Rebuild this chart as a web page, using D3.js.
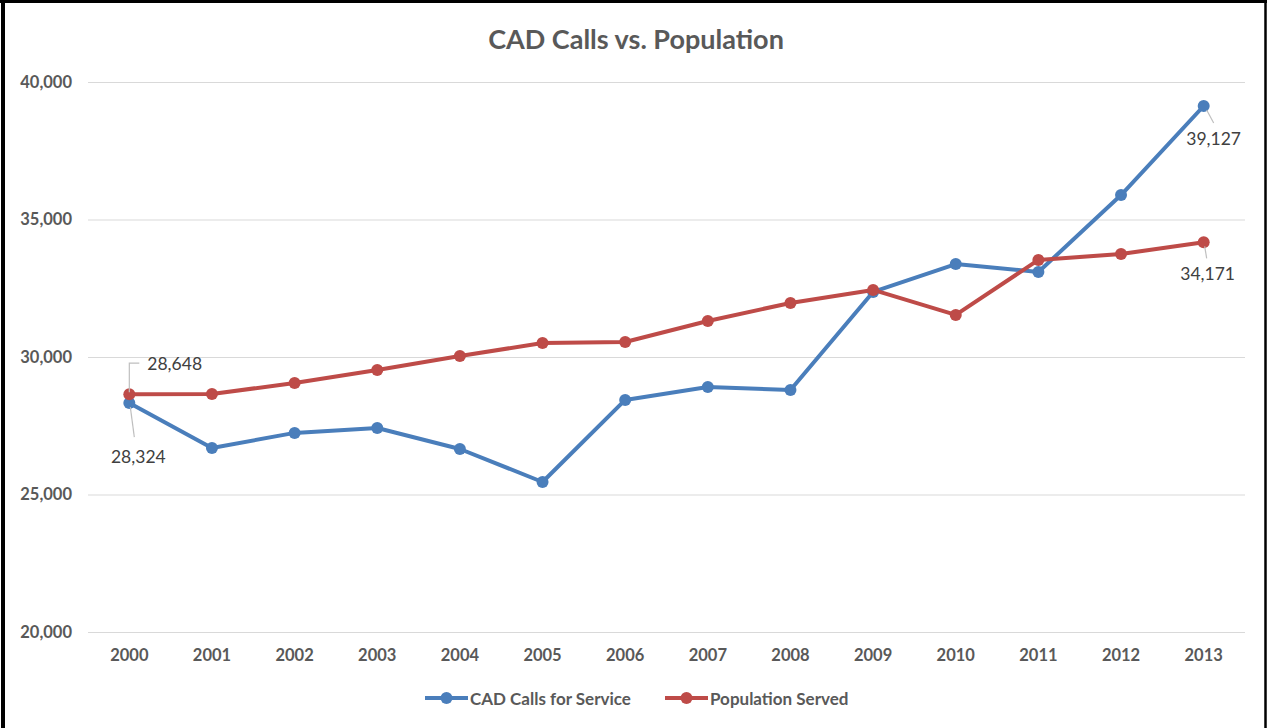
<!DOCTYPE html>
<html>
<head>
<meta charset="utf-8">
<script src="https://cdn.jsdelivr.net/npm/d3@7/dist/d3.min.js"></script>
<style>
  html, body { margin: 0; padding: 0; background: #fff; }
  svg { display: block; }
</style>
</head>
<body>
<svg id="chart" width="1270" height="728"></svg>
<script>
// Years on the category axis
const years = ["2000","2001","2002","2003","2004","2005","2006","2007","2008","2009","2010","2011","2012","2013"];
// CAD calls for service per year
const cadCalls = [28324, 26690, 27240, 27420, 26655, 25455, 28440, 28910, 28800, 32365, 33380, 33090, 35890, 39127];
// Population served per year
const population = [28648, 28655, 29055, 29530, 30035, 30510, 30545, 31310, 31965, 32440, 31530, 33530, 33745, 34171];
// Value axis ticks
const yTicks = [20000, 25000, 30000, 35000, 40000];

const seriesNames = ["CAD Calls for Service", "Population Served"];
const colors = ["#4a7ebb", "#be4b48"];

const svg = d3.select("#chart");
const W = 1270, H = 728;
const font = "Lato, 'Open Sans', sans-serif";

// frame
svg.append("rect").attr("x", 0).attr("y", 0).attr("width", W).attr("height", H).attr("fill", "#fff");
svg.append("line").attr("x1", 3).attr("x2", 3).attr("y1", 0).attr("y2", H).attr("stroke", "#000").attr("stroke-width", 4);
svg.append("line").attr("x1", 0).attr("x2", 1267).attr("y1", 1.5).attr("y2", 1.5).attr("stroke", "#000").attr("stroke-width", 3);
svg.append("line").attr("x1", 1265.5).attr("x2", 1265.5).attr("y1", 0).attr("y2", H).attr("stroke", "#000").attr("stroke-width", 2.5);

const x = d3.scaleBand().domain(years).range([88, 1245]);
const y = d3.scaleLinear().domain([20000, 40000]).range([632, 82]);
const cx = d => x(d) + x.bandwidth() / 2;

// title
svg.append("text")
  .attr("x", 636).attr("y", 49)
  .attr("text-anchor", "middle")
  .attr("font-family", font).attr("font-weight", "bold")
  .attr("font-size", 27).attr("fill", "#595959")
  .text("CAD Calls vs. Population");

// horizontal gridlines and value labels
const yAxis = d3.axisLeft(y).tickValues(yTicks).tickSize(-(1245 - 88)).tickPadding(16)
  .tickFormat(d3.format(","));
const gy = svg.append("g").attr("transform", "translate(88,0)").call(yAxis);
gy.select(".domain").remove();
gy.selectAll(".tick line").attr("stroke", "#d9d9d9").attr("stroke-width", 1);
gy.selectAll(".tick text")
  .attr("font-family", font).attr("font-weight", "bold")
  .attr("font-size", 16.5).attr("fill", "#595959");

// category axis labels
const xAxis = d3.axisBottom(x).tickSize(0).tickPadding(17);
const gx = svg.append("g").attr("transform", "translate(0,632)").call(xAxis);
gx.select(".domain").remove();
gx.selectAll(".tick text")
  .attr("font-family", font).attr("font-weight", "bold")
  .attr("font-size", 16.5).attr("fill", "#595959");

// series lines and markers
const series = [cadCalls, population];
const line = d3.line().x((d, i) => cx(years[i])).y(d => y(d));
series.forEach((vals, s) => {
  svg.append("path").datum(vals)
    .attr("d", line)
    .attr("fill", "none")
    .attr("stroke", colors[s]).attr("stroke-width", 4)
    .attr("stroke-linejoin", "round").attr("stroke-linecap", "round");
  svg.append("g").selectAll("circle").data(vals).join("circle")
    .attr("cx", (d, i) => cx(years[i]))
    .attr("cy", d => y(d))
    .attr("r", 6)
    .attr("fill", colors[s]);
});

// data labels with leader lines
const fmt = d3.format(",");
const labels = [
  { s: 1, i: 0, dx: 18, dy: -31, anchor: "start", leader: [[0, -2], [0, -31], [10, -31]] },
  { s: 0, i: 0, dx: 9, dy: 53, anchor: "middle", leader: [[1, 4], [5, 34]] },
  { s: 0, i: 13, dx: 10, dy: 32, anchor: "middle", leader: [[3, 4], [10, 17]] },
  { s: 1, i: 13, dx: 4, dy: 31, anchor: "middle", leader: [[1, 4], [3, 16]] }
];
labels.forEach(l => {
  const v = series[l.s][l.i];
  const px = cx(years[l.i]), py = y(v);
  svg.append("path")
    .attr("d", d3.line()(l.leader.map(p => [px + p[0], py + p[1]])))
    .attr("fill", "none").attr("stroke", "#bfbfbf").attr("stroke-width", 1.2);
  svg.append("text")
    .attr("x", px + l.dx).attr("y", py + l.dy)
    .attr("text-anchor", l.anchor).attr("dominant-baseline", "central")
    .attr("font-family", font).attr("font-size", 17.5).attr("fill", "#404040")
    .text(fmt(v));
});

// legend
const legendItems = [
  { name: seriesNames[0], color: colors[0], x: 425 },
  { name: seriesNames[1], color: colors[1], x: 665 }
];
legendItems.forEach(it => {
  const g = svg.append("g").attr("transform", `translate(${it.x},698)`);
  g.append("line").attr("x1", 0).attr("x2", 43).attr("y1", 0).attr("y2", 0)
    .attr("stroke", it.color).attr("stroke-width", 4);
  g.append("circle").attr("cx", 21.5).attr("cy", 0).attr("r", 6).attr("fill", it.color);
  g.append("text").attr("x", 45).attr("y", 0).attr("dominant-baseline", "central")
    .attr("font-family", font).attr("font-weight", "bold")
    .attr("font-size", 17).attr("fill", "#595959")
    .text(it.name);
});
</script>
</body>
</html>
